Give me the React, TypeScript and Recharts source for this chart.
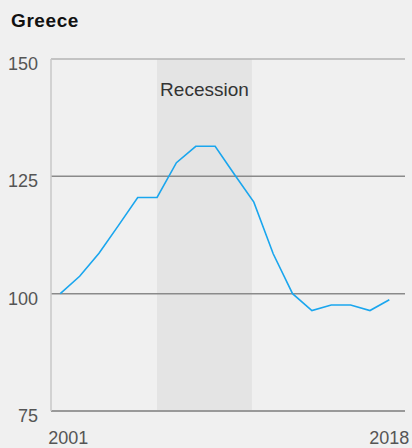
import { LineChart, Line, XAxis, YAxis, ReferenceArea, ReferenceLine } from 'recharts';

const years = [2001, 2002, 2003, 2004, 2005, 2006, 2007, 2008, 2009, 2010, 2011, 2012, 2013, 2014, 2015, 2016, 2017, 2018];
const values = [100, 103.7, 108.6, 114.5, 120.5, 120.5, 127.9, 131.4, 131.4, 125.4, 119.5, 108.5, 100, 96.4, 97.6, 97.6, 96.4, 98.7];
const yTicks = [75, 100, 125, 150];
const xTicks = [2001, 2018];
const recession = [2006, 2010.9];

const data = years.map((year, i) => ({ year, value: values[i] }));

const FONT = "'Helvetica Neue', Helvetica, Arial, 'Liberation Sans', sans-serif";

const YTick = ({ x, y, payload }: any) => (
  <text x={x} y={y} dy={11} textAnchor="end" fill="#555" fontSize={18} fontFamily={FONT}>
    {payload.value}
  </text>
);

const XTick = ({ x, y, payload, index }: any) => (
  <text x={x} y={y} dx={index === 0 ? 8 : 0} dy={33} textAnchor="middle" fill="#555" fontSize={18} fontFamily={FONT}>
    {payload.value}
  </text>
);

export default function App() {
  return (
    <div style={{ position: 'fixed', left: 0, top: 0, width: 412, height: 448, background: '#f0f0f0', fontFamily: FONT }}>
      <div style={{ position: 'absolute', left: 11, top: 11, fontSize: 19, lineHeight: '19px', fontWeight: 700, color: '#111', letterSpacing: 0.6 }}>
        Greece
      </div>
      <LineChart width={412} height={448} data={data} margin={{ top: 59, right: 7, bottom: 7, left: 0 }}>
        <ReferenceArea
          x1={recession[0]}
          x2={recession[1]}
          y1={75}
          y2={150}
          fill="#e4e4e4"
          fillOpacity={1}
          stroke="none"
          label={{ value: 'Recession', position: 'insideTop', offset: 24, fill: '#333', fontSize: 19, fontFamily: FONT }}
        />
        <ReferenceLine y={150} stroke="#b4b4b4" strokeWidth={1.5} />
        <ReferenceLine y={125} stroke="#8a8a8a" strokeWidth={1.5} />
        <ReferenceLine y={100} stroke="#8a8a8a" strokeWidth={1.5} />
        <XAxis
          dataKey="year"
          type="number"
          domain={[2000.52, 2018.81]}
          ticks={xTicks}
          height={30}
          tickLine={false}
          tickSize={0}
          tickMargin={0}
          axisLine={{ stroke: '#999', strokeWidth: 2 }}
          tick={<XTick />}
          interval={0}
        />
        <YAxis
          type="number"
          domain={[75, 150]}
          ticks={yTicks}
          width={51}
          tickLine={false}
          tickSize={0}
          tickMargin={13}
          axisLine={{ stroke: '#c8c8c8', strokeWidth: 1.5 }}
          tick={<YTick />}
          interval={0}
        />
        <Line
          type="linear"
          dataKey="value"
          stroke="#1aa6ee"
          strokeWidth={1.6}
          dot={false}
          isAnimationActive={false}
        />
      </LineChart>
    </div>
  );
}
